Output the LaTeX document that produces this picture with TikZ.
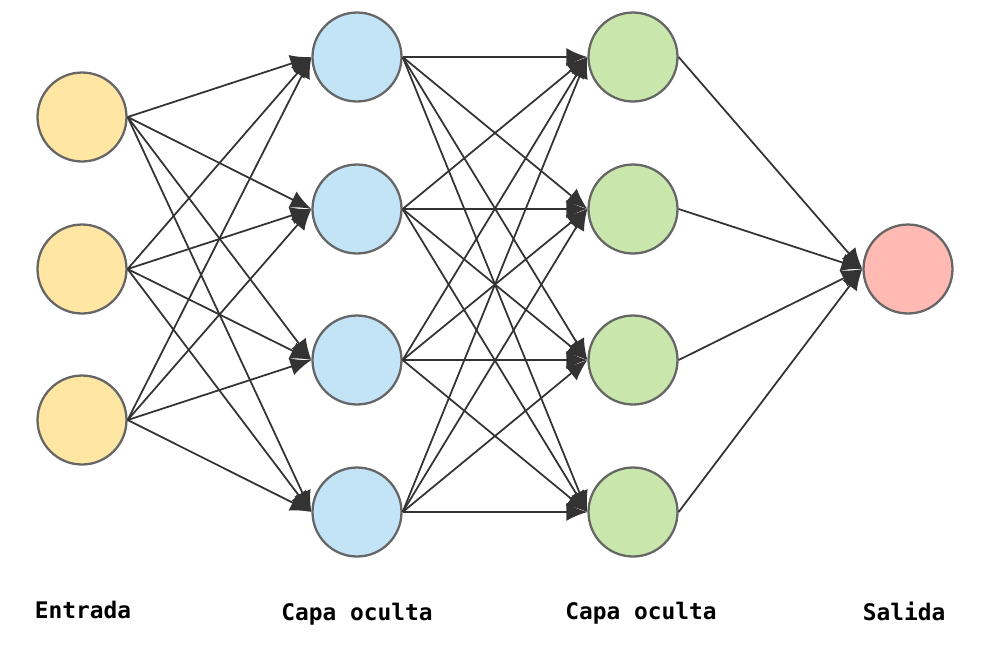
\documentclass[tikz,border=0pt]{standalone}
\usepackage{fontspec}
\setmonofont{DejaVu Sans Mono}
\usetikzlibrary{arrows.meta}
\definecolor{entradafill}{HTML}{FFE6A3}
\definecolor{ocultafill}{HTML}{C3E4F7}
\definecolor{oculta2fill}{HTML}{C9E7AD}
\definecolor{salidafill}{HTML}{FFBAB3}
\definecolor{borde}{HTML}{666666}
\definecolor{flecha}{HTML}{333333}
\tikzset{
    neurona/.style={circle, draw=borde, line width=1.3pt, minimum size=1.78cm, inner sep=0pt},
    conexion/.style={draw=flecha, line width=1pt, -{Latex[length=0.42cm,width=0.36cm]}},
    etiqueta/.style={anchor=base, font=\ttfamily\bfseries\fontsize{13}{15}\selectfont}
}
\begin{document}
\begin{tikzpicture}[x=0.02cm, y=-0.02cm]
                \useasboundingbox (0,0) rectangle (1000,654);
                % capa de entrada
                \node [neurona, fill=entradafill] (e1) at (82,117) {};
                \node [neurona, fill=entradafill] (e2) at (82,269) {};
                \node [neurona, fill=entradafill] (e3) at (82,420) {};
                % primera capa oculta
                \node [neurona, fill=ocultafill] (a1) at (357,57) {};
                \node [neurona, fill=ocultafill] (a2) at (357,209) {};
                \node [neurona, fill=ocultafill] (a3) at (357,360) {};
                \node [neurona, fill=ocultafill] (a4) at (357,512) {};
                % segunda capa oculta
                \node [neurona, fill=oculta2fill] (b1) at (633,57) {};
                \node [neurona, fill=oculta2fill] (b2) at (633,209) {};
                \node [neurona, fill=oculta2fill] (b3) at (633,360) {};
                \node [neurona, fill=oculta2fill] (b4) at (633,512) {};
                % salida
                \node [neurona, fill=salidafill] (s) at (908,269) {};
                % etiquetas
                \node [etiqueta] (t1) at (83,618) {Entrada};
                \node [etiqueta] (t2) at (357,620) {Capa oculta};
                \node [etiqueta] (t3) at (641,619) {Capa oculta};
                \node [etiqueta] (t4) at (904,620) {Salida};
                % entrada -> oculta
                \draw [conexion] (e1.east) -- (a1.west);
                \draw [conexion] (e1.east) -- (a2.west);
                \draw [conexion] (e1.east) -- (a3.west);
                \draw [conexion] (e1.east) -- (a4.west);
                \draw [conexion] (e2.east) -- (a1.west);
                \draw [conexion] (e2.east) -- (a2.west);
                \draw [conexion] (e2.east) -- (a3.west);
                \draw [conexion] (e2.east) -- (a4.west);
                \draw [conexion] (e3.east) -- (a1.west);
                \draw [conexion] (e3.east) -- (a2.west);
                \draw [conexion] (e3.east) -- (a3.west);
                \draw [conexion] (e3.east) -- (a4.west);
                % oculta -> oculta
                \draw [conexion] (a1.east) -- (b1.west);
                \draw [conexion] (a1.east) -- (b2.west);
                \draw [conexion] (a1.east) -- (b3.west);
                \draw [conexion] (a1.east) -- (b4.west);
                \draw [conexion] (a2.east) -- (b1.west);
                \draw [conexion] (a2.east) -- (b2.west);
                \draw [conexion] (a2.east) -- (b3.west);
                \draw [conexion] (a2.east) -- (b4.west);
                \draw [conexion] (a3.east) -- (b1.west);
                \draw [conexion] (a3.east) -- (b2.west);
                \draw [conexion] (a3.east) -- (b3.west);
                \draw [conexion] (a3.east) -- (b4.west);
                \draw [conexion] (a4.east) -- (b1.west);
                \draw [conexion] (a4.east) -- (b2.west);
                \draw [conexion] (a4.east) -- (b3.west);
                \draw [conexion] (a4.east) -- (b4.west);
                % oculta -> salida
                \draw [conexion] (b1.east) -- (s.west);
                \draw [conexion] (b2.east) -- (s.west);
                \draw [conexion] (b3.east) -- (s.west);
                \draw [conexion] (b4.east) -- (s.west);
            \end{tikzpicture}
\end{document}
